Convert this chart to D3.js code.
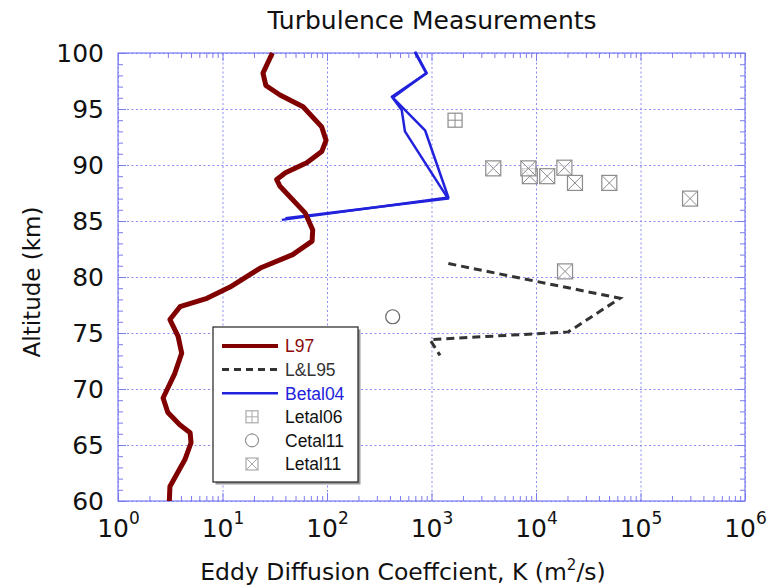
<!DOCTYPE html>
<html>
<head>
<meta charset="utf-8">
<script src="https://cdn.jsdelivr.net/npm/d3@7"></script>
<style>
  body { margin: 0; background: #fff; }
  svg { display: block; }
</style>
</head>
<body>
<svg id="chart" width="775" height="588"></svg>
<script>
// L97 eddy diffusion profile: [K (m^2/s), altitude (km)]
const l97 = [
  [30, 100], [24.4, 98.2], [26, 97.1], [35.5, 96.25], [59, 95.2], [89, 93.4],
  [98, 92.2], [89, 91.2], [64, 90.2], [40, 89.3], [33, 88.7], [35.5, 88.1],
  [62, 85.7], [73, 84.2], [72, 83.2], [47, 82.0], [23, 80.8], [11.8, 79.1],
  [7.1, 78.1], [3.92, 77.35], [3.14, 76.2], [3.76, 74.7], [4.07, 73.2],
  [3.5, 71.4], [2.7, 69.2], [3.0, 67.9], [3.9, 66.8], [4.9, 66.1], [5.0, 65.2],
  [4.37, 63.7], [3.14, 61.3], [3.1, 60]
];
// L&L95 profile
const ll95 = [
  [1450, 81.2], [63700, 78.1], [20400, 75.1], [968, 74.4], [1206, 73.0]
];
// Betal04: two overlapping profiles
const betal04a = [
  [700, 100.1], [900, 98.2], [417, 96.1], [450, 95.8], [868, 93.1], [1450, 87.1], [37, 85.1]
];
const betal04b = [
  [690, 100.1], [890, 98.2], [425, 96.0], [519, 94.9], [557, 93.0], [1440, 87.0], [40, 85.25]
];
// Point measurements
const letal06 = [[1680, 94.0]];
const cetal11 = [[425, 76.45]];
const letal11 = [
  [3900, 89.7], [8730, 89.0], [8450, 89.7], [12800, 89.0], [18700, 89.76],
  [23600, 88.4], [50300, 88.4], [298000, 87.0], [18960, 80.5]
];

const xTicks = [1, 10, 100, 1000, 1e4, 1e5, 1e6];
const yTicks = [60, 65, 70, 75, 80, 85, 90, 95, 100];

const legendItems = [
  { label: "L97", kind: "line", color: "#800000", text: "#8b0a0a", width: 4, dash: null },
  { label: "L&L95", kind: "line", color: "#333333", text: "#333333", width: 3, dash: "7,5" },
  { label: "Betal04", kind: "line", color: "#2222dd", text: "#2222dd", width: 2.5, dash: null },
  { label: "Letal06", kind: "boxplus", text: "#111111" },
  { label: "Cetal11", kind: "circle", text: "#111111" },
  { label: "Letal11", kind: "boxtimes", text: "#111111" }
];

const FONT = "'DejaVu Sans', sans-serif";
const margin = { top: 53, right: 30, bottom: 87, left: 118 };
const W = 775, H = 588;
const width = W - margin.left - margin.right;
const height = H - margin.top - margin.bottom;

const svg = d3.select("#chart");
const g = svg.append("g").attr("transform", `translate(${margin.left},${margin.top})`);

const x = d3.scaleLog().domain([1, 1e6]).range([0, width]);
const y = d3.scaleLinear().domain([60, 100]).range([height, 0]);

const frameColor = "#7b7bf0";
const gridColor = "#8c8cf0";

// grid
g.append("g")
  .attr("transform", `translate(0,${height})`)
  .call(d3.axisBottom(x).tickValues(xTicks).tickSize(-height).tickFormat(""))
  .call(s => s.select(".domain").remove())
  .call(s => s.selectAll("line").attr("stroke", gridColor).attr("stroke-width", 1).attr("stroke-dasharray", "2,2.5"));
g.append("g")
  .call(d3.axisLeft(y).tickValues(yTicks).tickSize(-width).tickFormat(""))
  .call(s => s.select(".domain").remove())
  .call(s => s.selectAll("line").attr("stroke", gridColor).attr("stroke-width", 1).attr("stroke-dasharray", "2,2.5"));

// minor ticks
const xMinor = [];
for (let e = 0; e < 6; e++) for (let m = 2; m <= 9; m++) xMinor.push(m * Math.pow(10, e));
const yMinor = d3.range(60, 101, 1).filter(v => v % 5 !== 0);

function styleTicks(s) {
  s.select(".domain").remove();
  s.selectAll("line").attr("stroke", frameColor).attr("stroke-width", 1);
}
g.append("g").attr("transform", `translate(0,${height})`)
  .call(d3.axisBottom(x).tickValues(xMinor).tickSize(-5).tickFormat("")).call(styleTicks);
g.append("g")
  .call(d3.axisTop(x).tickValues(xMinor).tickSize(-5).tickFormat("")).call(styleTicks);
g.append("g")
  .call(d3.axisLeft(y).tickValues(yMinor).tickSize(-5).tickFormat("")).call(styleTicks);
g.append("g").attr("transform", `translate(${width},0)`)
  .call(d3.axisRight(y).tickValues(yMinor).tickSize(-5).tickFormat("")).call(styleTicks);
g.append("g").attr("transform", `translate(${width},0)`)
  .call(d3.axisRight(y).tickValues(yTicks).tickSize(-8).tickFormat("")).call(styleTicks);
g.append("g")
  .call(d3.axisTop(x).tickValues(xTicks).tickSize(-8).tickFormat("")).call(styleTicks);

// labelled axes
g.append("g").attr("transform", `translate(0,${height})`)
  .call(d3.axisBottom(x).tickValues(xTicks).tickSize(-8).tickPadding(12).tickFormat(""))
  .call(styleTicks)
  .call(s => s.selectAll(".tick text").each(function (d) {
    const t = d3.select(this)
      .attr("font-family", FONT).attr("font-size", 25).attr("fill", "#111")
      .attr("dy", "0.95em");
    t.append("tspan").text("10");
    t.append("tspan").attr("font-size", 17).attr("dy", "-0.75em").text(Math.round(Math.log10(d)));
  }));

g.append("g")
  .call(d3.axisLeft(y).tickValues(yTicks).tickSize(-8).tickPadding(14).tickFormat(d3.format("d")))
  .call(styleTicks)
  .call(s => s.selectAll(".tick text").attr("font-family", FONT).attr("font-size", 25).attr("fill", "#111"));

// frame
g.append("rect").attr("width", width).attr("height", height)
  .attr("fill", "none").attr("stroke", frameColor).attr("stroke-width", 1.2);

// lines
const line = d3.line().x(d => x(d[0])).y(d => y(d[1]));

g.append("path").datum(betal04a).attr("d", line)
  .attr("fill", "none").attr("stroke", "#2222dd").attr("stroke-width", 2.5).attr("stroke-linejoin", "round");
g.append("path").datum(betal04b).attr("d", line)
  .attr("fill", "none").attr("stroke", "#2222dd").attr("stroke-width", 2.5).attr("stroke-linejoin", "round");

g.append("path").datum(ll95).attr("d", line)
  .attr("fill", "none").attr("stroke", "#333").attr("stroke-width", 3).attr("stroke-dasharray", "8,5");

g.append("path").datum(l97).attr("d", line)
  .attr("fill", "none").attr("stroke", "#800000").attr("stroke-width", 5).attr("stroke-linejoin", "round");

// markers
const markerColor = "#8c8c8c";
function boxMarker(sel, size, cross) {
  const h = size / 2;
  sel.append("rect").attr("x", -h).attr("y", -h).attr("width", size).attr("height", size)
    .attr("fill", "#fff").attr("fill-opacity", 0.6).attr("stroke", markerColor).attr("stroke-width", 1.2);
  if (cross === "plus") {
    sel.append("line").attr("x1", 0).attr("x2", 0).attr("y1", -h).attr("y2", h).attr("stroke", markerColor);
    sel.append("line").attr("x1", -h).attr("x2", h).attr("y1", 0).attr("y2", 0).attr("stroke", markerColor);
  } else {
    sel.append("line").attr("x1", -h).attr("x2", h).attr("y1", -h).attr("y2", h).attr("stroke", markerColor);
    sel.append("line").attr("x1", -h).attr("x2", h).attr("y1", h).attr("y2", -h).attr("stroke", markerColor);
  }
}

g.selectAll(".letal06").data(letal06).join("g").attr("class", "letal06")
  .attr("transform", d => `translate(${x(d[0])},${y(d[1])})`)
  .each(function () { boxMarker(d3.select(this), 14, "plus"); });

g.selectAll(".letal11").data(letal11).join("g").attr("class", "letal11")
  .attr("transform", d => `translate(${x(d[0])},${y(d[1])})`)
  .each(function () { boxMarker(d3.select(this), 15, "times"); });

g.selectAll(".cetal11").data(cetal11).join("circle").attr("class", "cetal11")
  .attr("cx", d => x(d[0])).attr("cy", d => y(d[1])).attr("r", 7)
  .attr("fill", "none").attr("stroke", "#666").attr("stroke-width", 1.2);

// legend
const lg = svg.append("g").attr("transform", "translate(213,327)");
lg.append("rect").attr("x", 2.5).attr("y", 2.5).attr("width", 145).attr("height", 155).attr("fill", "#9a9a9a");
lg.append("rect").attr("width", 145).attr("height", 155).attr("fill", "#fff")
  .attr("stroke", "#222").attr("stroke-width", 1.2);
legendItems.forEach((it, i) => {
  const ry = 19 + i * 23.6;
  const row = lg.append("g").attr("transform", `translate(0,${ry})`);
  if (it.kind === "line") {
    row.append("line").attr("x1", 9).attr("x2", 65).attr("y1", 0).attr("y2", 0)
      .attr("stroke", it.color).attr("stroke-width", it.width)
      .attr("stroke-dasharray", it.dash);
  } else if (it.kind === "circle") {
    row.append("circle").attr("cx", 39).attr("cy", 0).attr("r", 6.5)
      .attr("fill", "none").attr("stroke", "#777").attr("stroke-width", 1);
  } else {
    const m = row.append("g").attr("transform", "translate(39,0)");
    boxMarker(m, 12, it.kind === "boxplus" ? "plus" : "times");
    m.selectAll("rect,line").attr("stroke", "#aaa");
  }
  row.append("text").attr("x", 72).attr("y", 0).attr("dy", "0.36em")
    .attr("font-family", "'Liberation Sans', Arial, sans-serif").attr("font-size", 17.5)
    .attr("fill", it.text).text(it.label);
});

// titles
svg.append("text").attr("x", 432).attr("y", 29).attr("text-anchor", "middle")
  .attr("font-family", FONT).attr("font-size", 25).attr("fill", "#111")
  .text("Turbulence Measurements");

svg.append("text").attr("transform", "translate(40,282) rotate(-90)").attr("text-anchor", "middle")
  .attr("font-family", FONT).attr("font-size", 23).attr("fill", "#111")
  .text("Altitude (km)");

const xl = svg.append("text").attr("x", 403).attr("y", 580).attr("text-anchor", "middle")
  .attr("font-family", FONT).attr("font-size", 23.5).attr("fill", "#111");
xl.append("tspan").text("Eddy Diffusion Coeffcient, K (m");
xl.append("tspan").attr("font-size", 15).attr("dy", "-0.7em").text("2");
xl.append("tspan").attr("dy", "0.45em").text("/s)");
</script>
</body>
</html>
